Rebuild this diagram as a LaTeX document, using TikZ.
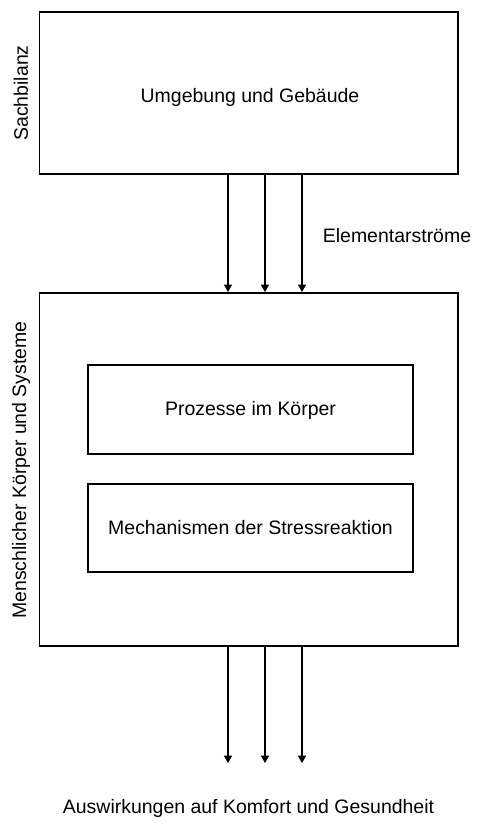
\documentclass[tikz,border=0pt]{standalone}
\usepackage{fontspec}
\setmainfont{Liberation Sans}
\usetikzlibrary{arrows.meta}
\begin{document}
\begin{tikzpicture}[x=0.75pt,y=-0.75pt,
  box/.style={draw,line width=0.9pt},
  flow/.style={line width=0.9pt,-{Triangle[length=5.5pt,width=6pt]}},
  lbl/.style={font=\fontsize{14.6}{17}\selectfont,inner sep=0pt}]
\useasboundingbox (0,0) rectangle (493,832);
% outer frames
\draw[box] (39.5,12) rectangle (458,174);
\draw[box] (39.5,293) rectangle (458,646);
\node[lbl] (env) at (250,97) {Umgebung und Gebäude};
\node[lbl,rotate=90] (sach) at (21,93) {Sachbilanz};
\node[lbl,rotate=90] (body) at (21,470) {Menschlicher Körper und Systeme};
% inner process boxes
\draw[box] (88,365) rectangle (413,454);
\node[lbl] (proc) at (250.5,410) {Prozesse im Körper};
\draw[box] (88,484) rectangle (413,572);
\node[lbl] (stress) at (250.5,528) {Mechanismen der Stressreaktion};
% flows between environment and body
\coordinate (a1) at (228,174); \coordinate (b1) at (228,292);
\coordinate (a2) at (265,174); \coordinate (b2) at (265,292);
\coordinate (a3) at (302,174); \coordinate (b3) at (302,292);
\draw[flow] (a1) -- (b1);
\draw[flow] (a2) -- (b2);
\draw[flow] (a3) -- (b3);
\node[lbl] (elem) at (397,236) {Elementarströme};
% flows leaving the body
\coordinate (c1) at (228,646); \coordinate (d1) at (228,763);
\coordinate (c2) at (265,646); \coordinate (d2) at (265,763);
\coordinate (c3) at (302,646); \coordinate (d3) at (302,763);
\draw[flow] (c1) -- (d1);
\draw[flow] (c2) -- (d2);
\draw[flow] (c3) -- (d3);
\node[lbl] (out) at (248.5,808) {Auswirkungen auf Komfort und Gesundheit};
\end{tikzpicture}
\end{document}
